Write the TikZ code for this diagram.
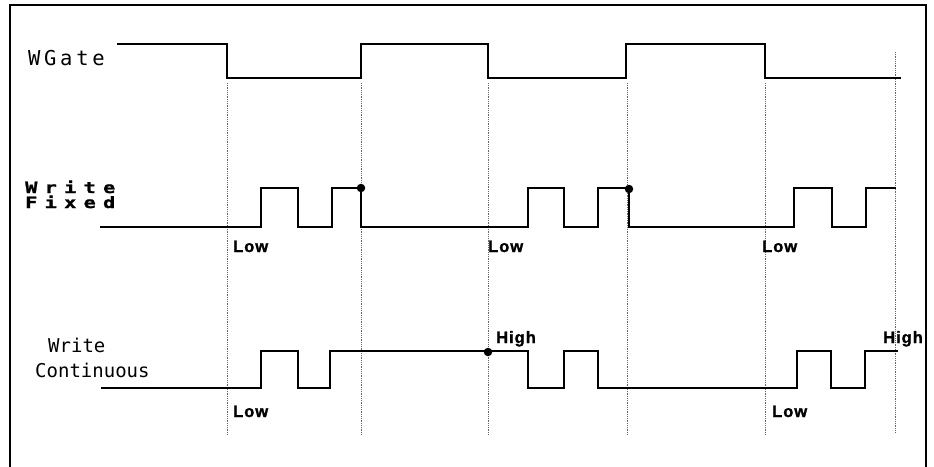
\documentclass[tikz,border=0pt]{standalone}
\usepackage{fontspec}
\usepackage{graphicx}
\usepackage{tikz}
\newfontfamily\gatefont{DejaVu Sans Mono}[LetterSpace=18]
\newfontfamily\fixfont{DejaVu Sans Mono}[LetterSpace=36,BoldFeatures={FakeBold=1.2}]
\newfontfamily\contfont{DejaVu Sans Mono}
\newfontfamily\tagfont{Liberation Sans}[LetterSpace=6,BoldFeatures={FakeBold=1.5}]
\tikzset{
  sig/.style={line width=1.5pt,draw=black,line join=miter},
  guide/.style={line width=0.9pt,draw=black!60,dash pattern=on 0.9pt off 0.9pt},
  frameline/.style={line width=1.4pt,draw=black},
  lvl/.style={font=\tagfont\bfseries\fontsize{16.5}{16}\selectfont,inner sep=0pt,anchor=base west},
  signame/.style={inner sep=0pt,anchor=base west},
  joint/.style={circle,fill=black,inner sep=0pt,minimum size=8.5pt},
}
\begin{document}
\begin{tikzpicture}[x=1pt,y=-1pt]
  \useasboundingbox (0,0) rectangle (934,466);
  \draw[frameline] (10,470) -- (10,5) -- (926,5) -- (926,470);

  % dotted guides at the WGate edges
  \foreach \gx in {227,361,488,627,765}
    \draw[guide] (\gx,83) -- (\gx,435);
  \draw[guide] (895,52) -- (895,433);

  % waveforms
  \draw[sig] (117,44) -| (227,78) -| (361,44) -| (488,78) -| (626,44) -| (765,78) -- (901,78);
  \draw[sig] (100,227) -| (261,188) -| (298,227) -| (332,188) -- (361,188);
  \draw[sig] (361,188) -- (361,227) -| (528,188) -| (564,227) -| (598,188) -- (629,188);
  \draw[sig] (629,188) -- (629,227) -| (794,188) -| (832,227) -| (866,188) -- (896,188);
  \draw[line width=2.2pt] (361,188) -- (361,227);
  \draw[sig] (101,388) -| (261,351) -| (298,388) -| (330,351) -| (528,388) -| (564,351) -| (598,388) -| (797,351) -| (831,388) -| (865,351) -- (898,351);

  \node[joint] (fixA) at (361,188) {};
  \node[joint] (fixB) at (629,189) {};
  \node[joint] (contA) at (488,352) {};

  % signal names
  \node[signame,font=\gatefont\fontsize{20.5}{20}\selectfont] (wgate) at (28,65) {WGate};
  \node[signame,font=\fixfont\bfseries\fontsize{13.5}{13}\selectfont] (fixtop) at (25,193) {\scalebox{1.5}[1.15]{Write}};
  \node[signame,font=\fixfont\bfseries\fontsize{13.5}{13}\selectfont] (fixbot) at (25,208) {\scalebox{1.5}[1.15]{Fixed}};
  \node[signame,font=\contfont\fontsize{19}{20}\selectfont] (conttop) at (48,352) {Write};
  \node[signame,font=\contfont\fontsize{19}{20}\selectfont] (contbot) at (35,377) {Continuous};

  % level tags
  \node[lvl] (lowA) at (233,252) {Low};
  \node[lvl] (lowB) at (488,252) {Low};
  \node[lvl] (lowC) at (762,252) {Low};
  \node[lvl] (lowD) at (233,417) {Low};
  \node[lvl] (lowE) at (772,417) {Low};
  \node[lvl] (highA) at (496,343) {High};
  \node[lvl] (highB) at (883,343) {High};
\end{tikzpicture}
\end{document}
